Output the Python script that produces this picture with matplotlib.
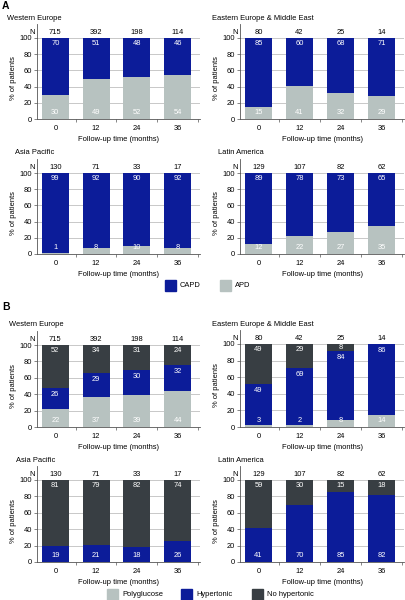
import matplotlib.pyplot as plt
from matplotlib.patches import Rectangle
import numpy as np

plt.rcParams['font.family'] = ['Liberation Sans', 'DejaVu Sans']

months = ['0', '12', '24', '36']

# panel A: modality
n_we = [715, 392, 198, 114]
n_ee = [80, 42, 25, 14]
n_ap = [130, 71, 33, 17]
n_la = [129, 107, 82, 62]

capd_we = [70, 51, 48, 46]
apd_we = [30, 49, 52, 54]
capd_ee = [85, 60, 68, 71]
apd_ee = [15, 41, 32, 29]
capd_ap = [99, 92, 90, 92]
apd_ap = [1, 8, 10, 8]
capd_la = [89, 78, 73, 65]
apd_la = [12, 22, 27, 35]

# panel B: solutions
poly_we = [22, 37, 39, 44]
hyper_we = [26, 29, 30, 32]
nohyp_we = [52, 34, 31, 24]
poly_ee = [3, 2, 8, 14]
hyper_ee = [49, 69, 84, 86]
nohyp_ee = [49, 29, 8, 0]
poly_ap = [0, 0, 0, 0]
hyper_ap = [19, 21, 18, 26]
nohyp_ap = [81, 79, 82, 74]
poly_la = [0, 0, 0, 0]
hyper_la = [41, 70, 85, 82]
nohyp_la = [59, 30, 15, 18]

BLUE = '#0c1c99'
LIGHT = '#b7c2c0'
DARK = '#383e43'
GRID = '#c8c8c8'
FS = 5.4

W, H = 406, 600
fig = plt.figure(figsize=(W / 100, H / 100), dpi=100)


def px_axes(x0, y0, x1, y1):
    return fig.add_axes([x0 / W, 1 - y1 / H, (x1 - x0) / W, (y1 - y0) / H])


def panel(box, title, title_x, counts, layers):
    x0, y0, x1, y1 = box
    ax = px_axes(x0, y0, x1, y1)
    x = np.arange(len(months))
    bottom = np.zeros(len(months))
    segs = []
    for vals, col in layers:
        vals = np.array(vals, dtype=float)
        ax.bar(x, vals, width=0.66, bottom=bottom, color=col, zorder=2)
        segs.append((bottom.copy(), vals))
        bottom = bottom + vals
    # value labels
    has_base = sum(layers[0][0]) > 0
    for i in range(len(months)):
        for k, (b, v) in enumerate(segs):
            if v[i] <= 0:
                continue
            top = min(b[i] + v[i], 100)
            if k == 0:
                y = 8
            elif k == len(segs) - 1:
                y = max(top - 7, (b[i] + top) / 2)
            else:
                y = top - 8 if has_base else 8
                if k == 1 and not has_base and len(segs) == 3:
                    y = 8
                if top >= 99.5:
                    y = 92
            ax.text(x[i], y, str(int(v[i])), color='white', ha='center',
                    va='center', fontsize=FS, zorder=3)
    for i, n in enumerate(counts):
        ax.text(x[i], 107, str(n), ha='center', va='center', fontsize=FS,
                clip_on=False)
    ax.text(-0.43 - 0.06, 107, 'N', ha='right', va='center', fontsize=FS,
            clip_on=False)
    ax.plot([-0.45, -0.45], [100, 117], color='#555555', lw=0.6,
            clip_on=False)
    ax.set_xlim(-0.45, 3.55)
    ax.set_ylim(0, 100)
    ax.set_yticks([0, 20, 40, 60, 80, 100])
    ax.set_xticks(x)
    ax.set_xticklabels(months)
    ax.set_xticks([0.5, 1.5, 2.5, 3.5], minor=True)
    ax.tick_params(axis='x', which='major', length=0, labelsize=FS, pad=4)
    ax.tick_params(axis='x', which='minor', length=2, width=0.5,
                   color='#555555')
    ax.tick_params(axis='y', length=2, width=0.5, labelsize=FS, pad=1.5,
                   color='#555555')
    ax.yaxis.grid(True, color=GRID, lw=0.7, zorder=0)
    ax.set_axisbelow(True)
    for s in ['top', 'right']:
        ax.spines[s].set_visible(False)
    for s in ['left', 'bottom']:
        ax.spines[s].set_linewidth(0.6)
        ax.spines[s].set_color('#555555')
    ax.set_ylabel('% of patients', fontsize=FS, labelpad=2)
    ax.set_xlabel('Follow-up time (months)', fontsize=FS, labelpad=3)
    fig.text(title_x / W, 1 - (y0 - 20) / H, title, fontsize=FS,
             ha='left', va='center')
    return ax


L = (37, 200)
R = (240, 404)

panel((L[0], 38, L[1], 119), 'Western Europe', 7, n_we,
      [(apd_we, LIGHT), (capd_we, BLUE)])
panel((R[0], 38, R[1], 119), 'Eastern Europe & Middle East', 212, n_ee,
      [(apd_ee, LIGHT), (capd_ee, BLUE)])
panel((L[0], 173, L[1], 254), 'Asia Pacific', 15, n_ap,
      [(apd_ap, LIGHT), (capd_ap, BLUE)])
panel((R[0], 173, R[1], 254), 'Latin America', 218, n_la,
      [(apd_la, LIGHT), (capd_la, BLUE)])

panel((L[0], 345, L[1], 427), 'Western Europe', 9, n_we,
      [(poly_we, LIGHT), (hyper_we, BLUE), (nohyp_we, DARK)])
panel((R[0], 344, R[1], 427), 'Eastern Europe & Middle East', 212, n_ee,
      [(poly_ee, LIGHT), (hyper_ee, BLUE), (nohyp_ee, DARK)])
panel((L[0], 480, L[1], 562), 'Asia Pacific', 16, n_ap,
      [(poly_ap, LIGHT), (hyper_ap, BLUE), (nohyp_ap, DARK)])
panel((R[0], 480, R[1], 562), 'Latin America', 218, n_la,
      [(poly_la, LIGHT), (hyper_la, BLUE), (nohyp_la, DARK)])

fig.text(2 / W, 1 - 6 / H, 'A', fontsize=7.5, fontweight='bold',
         ha='left', va='center')
fig.text(2 / W, 1 - 307 / H, 'B', fontsize=7.5, fontweight='bold',
         ha='left', va='center')


def legend_item(x, y, color, label):
    fig.patches.append(Rectangle((x / W, 1 - (y + 11) / H), 11 / W, 11 / H,
                                 color=color, transform=fig.transFigure,
                                 figure=fig))
    fig.text((x + 15) / W, 1 - (y + 5.5) / H, label, fontsize=FS,
             ha='left', va='center')


legend_item(165, 280, BLUE, 'CAPD')
legend_item(220, 280, LIGHT, 'APD')
legend_item(107, 589, LIGHT, 'Polyglucose')
legend_item(181, 589, BLUE, 'Hypertonic')
legend_item(252, 589, DARK, 'No hypertonic')

fig.savefig('out.png', dpi=100)
